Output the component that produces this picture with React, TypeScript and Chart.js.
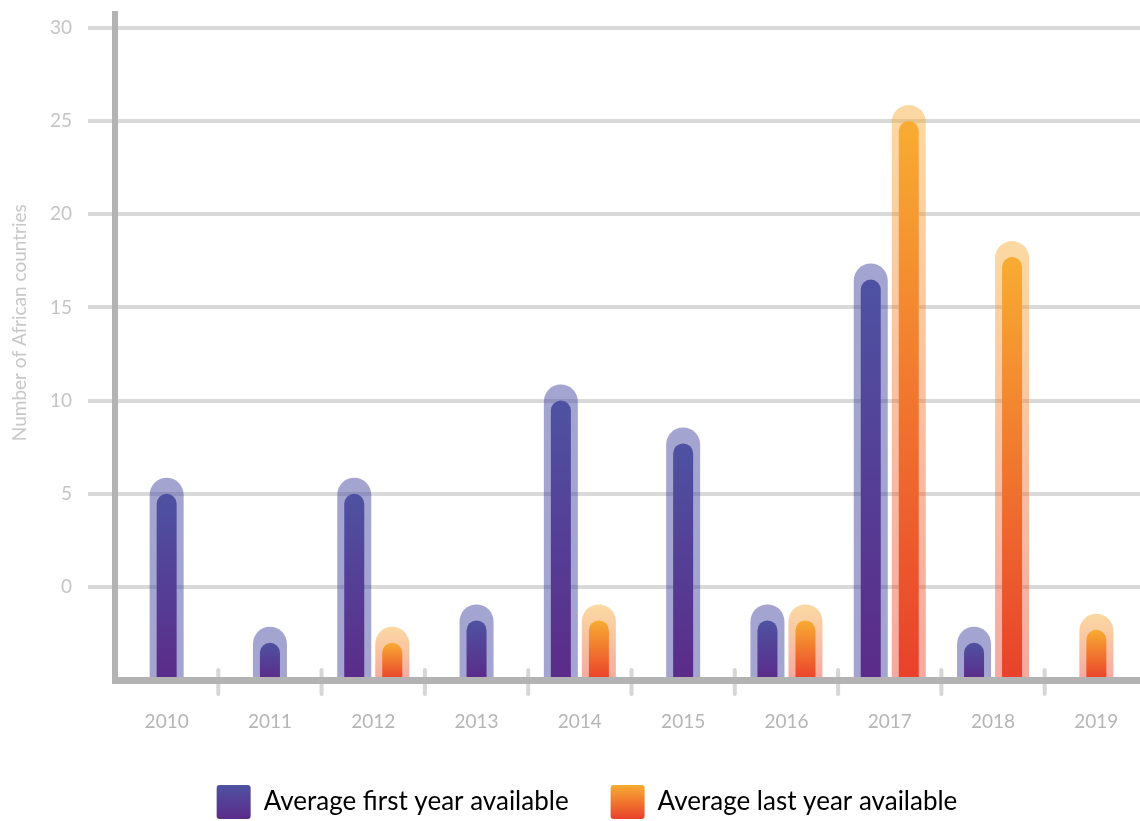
import React, { useEffect, useRef } from 'react';
import { Chart, registerables } from 'chart.js';

Chart.register(...registerables);

// ---- data ----
const years = ['2010', '2011', '2012', '2013', '2014', '2015', '2016', '2017', '2018', '2019'];
const firstYearAvailable: (number | null)[] = [5, -3, 5, -1.8, 10, 7.7, -1.8, 16.5, -3, null];
const lastYearAvailable: (number | null)[] = [null, null, -3, null, -1.8, null, -1.8, 25, 17.7, -2.3];
const yTickValues = [0, 5, 10, 15, 20, 25, 30];
const seriesNames = ['Average first year available', 'Average last year available'];
const yAxisTitle = 'Number of African countries';

// ---- styles ----
const FONT = 'Lato, "Noto Sans", sans-serif';
const AXIS_MIN = -5;
const AXIS_MAX = 30.75;
const blueStops = ['#4e52a2', '#5b2b89'];
const orangeStops = ['#f8ac32', '#e9402b'];
const haloStyles = [
  { stops: ['rgba(72,74,160,0.5)', 'rgba(72,74,160,0.5)'] },
  { stops: ['rgba(247,170,50,0.45)', 'rgba(233,64,43,0.45)'] },
];

const barGradient = (stops: string[]) => (c: any) => {
  const chart = c.chart;
  if (!chart.chartArea || c.type !== 'data' || c.raw == null) return stops[0];
  const ys = chart.scales.y;
  const top = ys.getPixelForValue(c.raw);
  const bottom = ys.getPixelForValue(AXIS_MIN);
  if (!isFinite(top) || !isFinite(bottom) || top === bottom) return stops[0];
  const g = chart.ctx.createLinearGradient(0, top, 0, bottom);
  g.addColorStop(0, stops[0]);
  g.addColorStop(1, stops[1]);
  return g;
};

const haloPlugin = {
  id: 'halo',
  beforeDatasetsDraw(chart: any) {
    const ctx = chart.ctx;
    chart.data.datasets.forEach((ds: any, di: number) => {
      const meta = chart.getDatasetMeta(di);
      if (meta.hidden) return;
      meta.data.forEach((el: any, i: number) => {
        if (ds.data[i] == null) return;
        const { x, y, base, width } = el.getProps(['x', 'y', 'base', 'width'], true);
        if (![x, y, base, width].every((v) => isFinite(v))) return;
        const half = width / 2 + 7;
        const top = y - 16;
        const g = ctx.createLinearGradient(0, top, 0, base);
        g.addColorStop(0, haloStyles[di].stops[0]);
        g.addColorStop(1, haloStyles[di].stops[1]);
        ctx.save();
        ctx.fillStyle = g;
        ctx.beginPath();
        ctx.moveTo(x - half, base);
        ctx.lineTo(x - half, top + half);
        ctx.arc(x, top + half, half, Math.PI, 0);
        ctx.lineTo(x + half, base);
        ctx.closePath();
        ctx.fill();
        ctx.restore();
      });
    });
  },
};

const xTickMarksPlugin = {
  id: 'xTickMarks',
  afterDatasetsDraw(chart: any) {
    const ctx = chart.ctx;
    const xs = chart.scales.x;
    const bottom = chart.chartArea.bottom;
    ctx.save();
    ctx.strokeStyle = '#d6d6d6';
    ctx.lineWidth = 4;
    ctx.lineCap = 'round';
    for (let i = 0; i < years.length - 1; i++) {
      const bx = (xs.getPixelForValue(i) + xs.getPixelForValue(i + 1)) / 2;
      ctx.beginPath();
      ctx.moveTo(bx, bottom - 10);
      ctx.lineTo(bx, bottom + 14);
      ctx.stroke();
    }
    ctx.restore();
  },
};

const legendGradientPlugin = {
  id: 'legendGradient',
  beforeDraw(chart: any) {
    const legend = chart.legend;
    if (!legend || !legend.legendItems || !legend.legendHitBoxes) return;
    const stops = [blueStops, orangeStops];
    legend.legendItems.forEach((item: any, i: number) => {
      const hb = legend.legendHitBoxes[i];
      if (!hb) return;
      const g = chart.ctx.createLinearGradient(0, hb.top, 0, hb.top + 34);
      g.addColorStop(0, stops[i][0]);
      g.addColorStop(1, stops[i][1]);
      item.fillStyle = g;
    });
  },
};

export default function App() {
  const canvasRef = useRef<HTMLCanvasElement | null>(null);

  useEffect(() => {
    if (!canvasRef.current) return;
    Chart.defaults.font.family = FONT;
    const chart = new Chart(canvasRef.current, {
      type: 'bar',
      data: {
        labels: years,
        datasets: [
          {
            label: seriesNames[0],
            data: firstYearAvailable,
            base: AXIS_MIN,
            backgroundColor: barGradient(blueStops),
            borderRadius: { topLeft: 10, topRight: 10, bottomLeft: 0, bottomRight: 0 },
            borderSkipped: false,
            borderWidth: 0,
          } as any,
          {
            label: seriesNames[1],
            data: lastYearAvailable,
            base: AXIS_MIN,
            backgroundColor: barGradient(orangeStops),
            borderRadius: { topLeft: 10, topRight: 10, bottomLeft: 0, bottomRight: 0 },
            borderSkipped: false,
            borderWidth: 0,
          } as any,
        ],
      },
      options: {
        animation: false,
        responsive: true,
        maintainAspectRatio: false,
        events: [],
        skipNull: true,
        categoryPercentage: 0.736,
        barPercentage: 0.53,
        maxBarThickness: 20,
        layout: { padding: { top: 14, left: 0, right: 0, bottom: 0 } },
        scales: {
          x: {
            offset: true,
            grid: { display: false, drawTicks: false },
            border: { display: true, color: '#b3b3b3', width: 7, z: 1 },
            ticks: { color: '#b5b5b5', font: { size: 19 }, padding: 30, maxRotation: 0 },
            afterFit: (s: any) => {
              s.height = 63;
            },
          },
          y: {
            min: AXIS_MIN,
            max: AXIS_MAX,
            afterBuildTicks: (s: any) => {
              s.ticks = yTickValues.map((v) => ({ value: v }));
            },
            afterFit: (s: any) => {
              s.width = 115;
              s.paddingTop = 0;
            },
            grid: { color: '#d9d9d9', lineWidth: 4, tickLength: 27, tickColor: '#d9d9d9', drawTicks: true },
            border: { display: true, color: '#b3b3b3', width: 6 },
            ticks: { color: '#c4c4c4', font: { size: 19 }, padding: 16 },
            title: {
              display: true,
              text: '          ' + yAxisTitle,
              color: '#c8c8c8',
              font: { size: 19 },
              padding: { top: 8, bottom: 0 },
            },
          },
          yRight: {
            type: 'linear',
            position: 'right',
            display: true,
            grid: { display: false },
            border: { display: false },
            ticks: { display: false },
            afterFit: (s: any) => {
              s.width = 26;
            },
          },
        },
        plugins: {
          tooltip: { enabled: false },
          legend: {
            position: 'bottom',
            labels: {
              color: '#333333',
              font: { size: 26 },
              boxWidth: 34,
              boxHeight: 34,
              padding: 42,
              useBorderRadius: true,
              borderRadius: 3,
              generateLabels: () =>
                seriesNames.map((name, i) => ({
                  text: name,
                  fillStyle: i === 0 ? blueStops[0] : orangeStops[0],
                  strokeStyle: 'rgba(0,0,0,0)',
                  lineWidth: 0,
                  hidden: false,
                  datasetIndex: i,
                  borderRadius: 3,
                })),
            },
          },
        },
      } as any,
      plugins: [haloPlugin, xTickMarksPlugin, legendGradientPlugin],
    });
    return () => chart.destroy();
  }, []);

  return (
    <div style={{ position: 'fixed', left: 0, top: 0, width: 1140, height: 821, overflow: 'hidden', background: '#fff' }}>
      <div style={{ position: 'absolute', left: 0, top: 0, width: 1174, height: 829 }}>
        <canvas ref={canvasRef} />
      </div>
    </div>
  );
}
